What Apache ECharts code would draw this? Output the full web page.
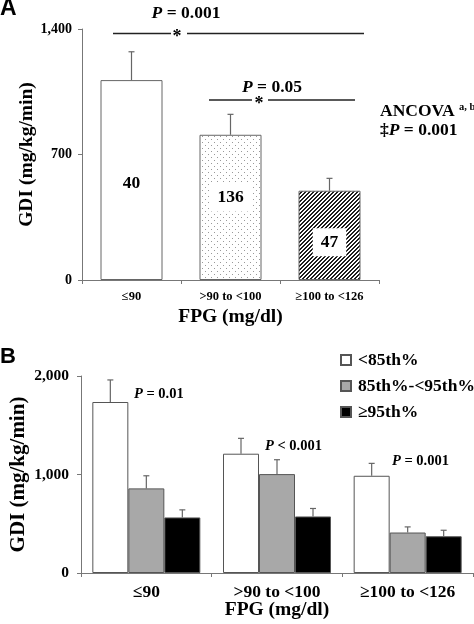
<!DOCTYPE html>
<html>
<head>
<meta charset="utf-8">
<script src="https://cdn.jsdelivr.net/npm/echarts@6/dist/echarts.min.js"></script>
<style>
html,body{margin:0;padding:0;background:#fff;}
#c{width:474px;height:624px;}
</style>
</head>
<body>
<div id="c"></div>
<script>
// ---- data ----
const categories = ['≤90', '>90 to <100', '≥100 to <126'];
const aMean = [1115, 810, 498];
const aErrTop = [1273, 924, 567];
const aN = ['40', '136', '47'];
const aTickLabels = ['0', '700', '1,400'];

const bNames = ['<85th%', '85th%-<95th%', '≥95th%'];
const bWhite = [1736, 1211, 987];
const bWhiteErrTop = [1960, 1367, 1113];
const bGray = [859, 1004, 411];
const bGrayErrTop = [987, 1150, 468];
const bBlack = [564, 574, 373];
const bBlackErrTop = [641, 655, 434];
const bTickLabels = ['0', '1,000', '2,000'];
const bPTexts = ['{i|P} = 0.01', '{i|P} < 0.001', '{i|P} = 0.001'];

// ---- styles ----
const SERIF = '"Liberation Serif", "Times New Roman", serif';
const SANS = '"Liberation Sans", Arial, sans-serif';
const AXC = '#777';
const EDGE = '#666';

function dotPattern() {
  const c = document.createElement('canvas');
  c.width = 6; c.height = 6;
  const g = c.getContext('2d');
  g.fillStyle = '#fff'; g.fillRect(0, 0, 6, 6);
  g.fillStyle = '#999';
  g.fillRect(1, 1, 1, 1);
  g.fillRect(4, 4, 1, 1);
  return c;
}
function hatchPattern() {
  const c = document.createElement('canvas');
  c.width = 4; c.height = 4;
  const g = c.getContext('2d');
  const img = g.createImageData(4, 4);
  for (let y = 0; y < 4; y++) for (let x = 0; x < 4; x++) {
    const k = (y * 4 + x) * 4;
    const dark = ((x + y) % 4) < 2;
    const v = dark ? 30 : 255;
    img.data[k] = v; img.data[k + 1] = v; img.data[k + 2] = v; img.data[k + 3] = 255;
  }
  g.putImageData(img, 0, 0);
  return c;
}
const aFills = ['#fff', { image: dotPattern(), repeat: 'repeat' }, { image: hatchPattern(), repeat: 'repeat' }];
const aLabelOffsets = [[0, 3], [0, -10], [0, 7]];
const aLabelBg = [null, '#fff', '#fff'];

const bColors = ['#fff', '#a8a8a8', '#000'];
const bMeans = [bWhite, bGray, bBlack];
const bErrs = [bWhiteErrTop, bGrayErrTop, bBlackErrTop];
const BW = 36;

function errRender(offset) {
  return function (params, api) {
    const p0 = api.coord([api.value(0), api.value(1)]);
    const p1 = api.coord([api.value(0), api.value(2)]);
    const x = p0[0] + offset;
    return {
      type: 'group',
      children: [
        { type: 'line', shape: { x1: x, y1: p0[1], x2: x, y2: p1[1] }, style: { stroke: EDGE, lineWidth: 1.2 } },
        { type: 'line', shape: { x1: x - 3, y1: p1[1], x2: x + 3, y2: p1[1] }, style: { stroke: EDGE, lineWidth: 1.2 } }
      ]
    };
  };
}

function yAxisCfg(gridIndex, max, interval, labels, fontSize, margin, name, nameSize, nameGap) {
  return {
    type: 'value', gridIndex: gridIndex, min: 0, max: max, interval: interval,
    axisLine: { show: true, lineStyle: { color: AXC, width: 1 } },
    axisTick: { show: true, length: 4, lineStyle: { color: AXC } },
    splitLine: { show: false },
    axisLabel: {
      margin: margin, color: '#000', fontFamily: SERIF, fontWeight: 'bold', fontSize: fontSize,
      formatter: function (v) { return labels[Math.round(v / interval)]; }
    },
    name: name, nameLocation: 'middle', nameGap: nameGap, nameRotate: 90, nameMoveOverlap: false,
    nameTextStyle: { fontFamily: SERIF, fontWeight: 'bold', fontSize: nameSize, color: '#000' }
  };
}
function xAxisCfg(gridIndex, fontSize, margin, nameSize, nameGap) {
  return {
    type: 'category', gridIndex: gridIndex, data: categories,
    axisLine: { show: true, lineStyle: { color: AXC, width: 1 } },
    axisTick: { show: true, length: 4, lineStyle: { color: AXC } },
    axisLabel: { margin: margin, color: '#000', fontFamily: SERIF, fontWeight: 'bold', fontSize: fontSize, interval: 0 },
    name: 'FPG (mg/dl)', nameLocation: 'middle', nameGap: nameGap, nameMoveOverlap: false,
    nameTextStyle: { fontFamily: SERIF, fontWeight: 'bold', fontSize: nameSize, color: '#000' }
  };
}

const PA = 17.5, PB = 14.5;
const pRich = {
  i: { fontFamily: SERIF, fontStyle: 'italic', fontWeight: 'bold', fontSize: PA, fill: '#000' }
};
const pRichB = {
  i: { fontFamily: SERIF, fontStyle: 'italic', fontWeight: 'bold', fontSize: PB, fill: '#000' }
};
function txt(x, y, text, size, rich, align) {
  return {
    type: 'text', x: x, y: y, silent: true,
    style: {
      text: text, font: 'bold ' + size + 'px ' + SERIF, fill: '#000',
      align: align || 'left', verticalAlign: 'middle', rich: rich
    }
  };
}
function hline(x1, x2, y) {
  return { type: 'line', silent: true, shape: { x1: x1, y1: y, x2: x2, y2: y }, style: { stroke: '#222', lineWidth: 1.4 } };
}

const series = [];
series.push({
  type: 'bar', xAxisIndex: 0, yAxisIndex: 0, barWidth: 62,
  data: aMean.map(function (v, i) {
    return {
      value: v,
      itemStyle: { color: aFills[i], borderColor: EDGE, borderWidth: 1 },
      label: {
        show: true, position: 'inside', offset: aLabelOffsets[i],
        formatter: aN[i], color: '#000', fontFamily: SERIF, fontWeight: 'bold', fontSize: 17.5,
        backgroundColor: aLabelBg[i] || 'transparent', padding: [5, 8]
      }
    };
  })
});
series.push({
  type: 'custom', xAxisIndex: 0, yAxisIndex: 0, renderItem: errRender(0), z: 3,
  data: aMean.map(function (v, i) { return [i, v, aErrTop[i]]; })
});
for (let s = 0; s < 3; s++) {
  series.push({
    type: 'bar', name: bNames[s], xAxisIndex: 1, yAxisIndex: 1, barWidth: BW, barGap: '0%',
    itemStyle: { color: bColors[s], borderColor: '#555', borderWidth: 1 },
    data: bMeans[s]
  });
}
for (let s = 0; s < 3; s++) {
  series.push({
    type: 'custom', xAxisIndex: 1, yAxisIndex: 1, renderItem: errRender((s - 1) * BW), z: 3,
    data: bMeans[s].map(function (v, i) { return [i, v, bErrs[s][i]]; })
  });
}

const chart = echarts.init(document.getElementById('c'), null, { renderer: 'canvas' });
chart.setOption({
  backgroundColor: '#fff',
  animation: false,
  grid: [
    { left: 82, top: 29, width: 297, height: 251 },
    { left: 80, top: 376, width: 393, height: 197 }
  ],
  xAxis: [xAxisCfg(0, 12.5, 10, 19.5, 27), xAxisCfg(1, 17.5, 10, 19.5, 27)],
  yAxis: [
    yAxisCfg(0, 1400, 700, aTickLabels, 14, 10, 'GDI (mg/kg/min)', 19.5, 45),
    yAxisCfg(1, 2000, 1000, bTickLabels, 15.5, 12, 'GDI (mg/kg/min)', 21, 52)
  ],
  legend: {
    data: bNames, orient: 'vertical', left: 335, top: 346,
    itemWidth: 10, itemHeight: 10, itemGap: 8, icon: 'rect',
    textStyle: { fontFamily: SERIF, fontWeight: 'bold', fontSize: 17.5, color: '#000', padding: [0, 0, 0, 2] }
  },
  series: series,
  graphic: [
    { type: 'text', x: 0, y: 9, silent: true, style: { text: 'A', font: 'bold 23px ' + SANS, fill: '#000', verticalAlign: 'middle' } },
    { type: 'text', x: 0, y: 357, silent: true, style: { text: 'B', font: 'bold 22px ' + SANS, fill: '#000', verticalAlign: 'middle' } },
    txt(186, 13, '{i|P} = 0.001', PA, pRich, 'center'),
    hline(113, 171, 33.5), hline(187, 364, 33.5),
    txt(177, 37, '*', 18, null, 'center'),
    txt(272, 87, '{i|P} = 0.05', PA, pRich, 'center'),
    hline(209, 252, 100), hline(268, 355, 100),
    txt(259, 104, '*', 18, null, 'center'),
    txt(380, 111, '{n|ANCOVA }{s|a, b}', 17.5, {
      n: { fontFamily: SERIF, fontWeight: 'bold', fontSize: 17.5, fill: '#000' },
      s: { fontFamily: SERIF, fontWeight: 'bold', fontSize: 10.5, fill: '#000', verticalAlign: 'top', padding: [0, 0, 8, 0] }
    }, 'left'),
    txt(380, 130, '‡{i|P} = 0.001', PA, pRich, 'left'),
    txt(134, 394, bPTexts[0], PB, pRichB, 'left'),
    txt(265, 446, bPTexts[1], PB, pRichB, 'left'),
    txt(392, 461, bPTexts[2], PB, pRichB, 'left')
  ]
});
</script>
</body>
</html>
